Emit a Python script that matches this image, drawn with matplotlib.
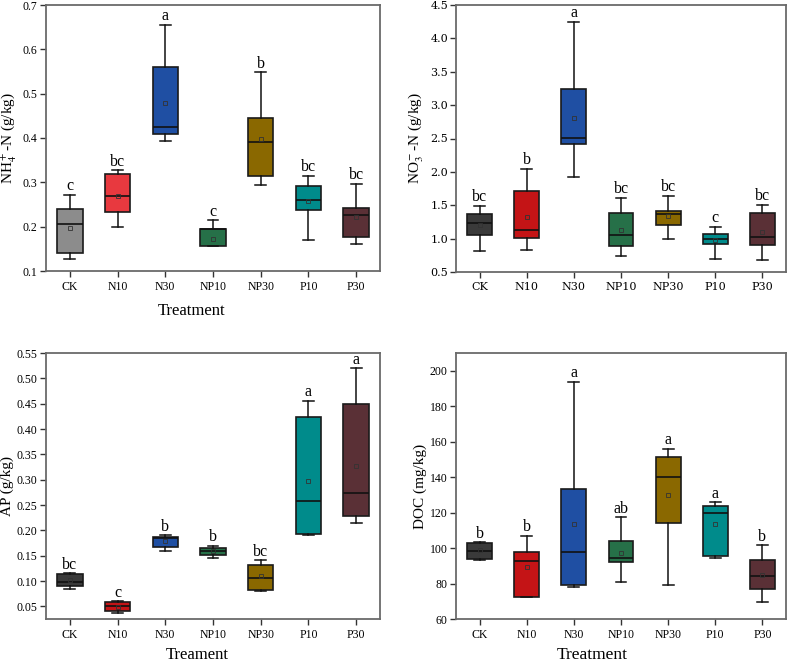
import matplotlib
matplotlib.use("Agg")
import matplotlib.pyplot as plt

plt.rcParams['font.family'] = ['Liberation Serif', 'DejaVu Serif']
plt.rcParams['mathtext.fontset'] = 'stix'

treatments = ["CK", "N10", "N30", "NP10", "NP30", "P10", "P30"]

# each: [whisker low, Q1, median, Q3, whisker high, mean]
nh4_low = [0.126, 0.200, 0.394, 0.156, 0.294, 0.170, 0.161]
nh4_q1 = [0.140, 0.234, 0.410, 0.156, 0.315, 0.238, 0.176]
nh4_med = [0.205, 0.270, 0.425, 0.194, 0.390, 0.261, 0.226]
nh4_q3 = [0.240, 0.318, 0.560, 0.194, 0.446, 0.291, 0.241]
nh4_high = [0.272, 0.327, 0.656, 0.214, 0.548, 0.314, 0.296]
nh4_mean = [0.198, 0.270, 0.480, 0.173, 0.398, 0.257, 0.221]
nh4_letters = ["c", "bc", "a", "c", "b", "bc", "bc"]

no3_low = [0.82, 0.835, 1.92, 0.74, 0.99, 0.69, 0.68]
no3_q1 = [1.054, 1.014, 2.418, 0.894, 1.209, 0.919, 0.909]
no3_med = [1.229, 1.134, 2.507, 1.059, 1.374, 0.999, 1.029]
no3_q3 = [1.369, 1.713, 3.247, 1.389, 1.409, 1.074, 1.384]
no3_high = [1.489, 2.048, 4.25, 1.609, 1.644, 1.179, 1.504]
no3_mean = [1.199, 1.319, 2.812, 1.129, 1.334, 0.979, 1.099]
no3_letters = ["bc", "b", "a", "bc", "bc", "c", "bc"]

ap_low = [0.084, 0.036, 0.159, 0.1445, 0.081, 0.190, 0.215]
ap_q1 = [0.0907, 0.040, 0.168, 0.152, 0.0815, 0.1937, 0.228]
ap_med = [0.099, 0.050, 0.185, 0.160, 0.1058, 0.257, 0.274]
ap_q3 = [0.113, 0.059, 0.187, 0.166, 0.131, 0.424, 0.4496]
ap_high = [0.115, 0.060, 0.190, 0.169, 0.1405, 0.455, 0.520]
ap_mean = [0.101, 0.0487, 0.178, 0.160, 0.109, 0.297, 0.327]
ap_letters = ["bc", "c", "b", "b", "bc", "a", "a"]

doc_low = [93.4, 72.2, 77.8, 80.8, 79.1, 94.3, 69.7]
doc_q1 = [93.9, 72.4, 78.9, 92.0, 114.0, 95.4, 77.1]
doc_med = [98.4, 92.8, 97.9, 94.5, 140.0, 119.6, 84.0]
doc_q3 = [103.1, 97.9, 133.3, 103.9, 151.6, 123.5, 93.2]
doc_high = [103.3, 107.0, 193.8, 117.3, 155.8, 125.8, 101.6]
doc_mean = [98.8, 89.2, 113.4, 97.5, 130.1, 113.4, 84.9]
doc_letters = ["b", "b", "a", "ab", "a", "a", "b"]

colors_a = ["#8c8c8c", "#e8393f", "#1f4fa3", "#267048", "#8a6800", "#008b8b", "#5a3036"]
colors_b = ["#3a3a3a", "#c41416", "#1f4fa3", "#267048", "#8a6800", "#008b8b", "#5a3036"]

fig = plt.figure(figsize=(7.91, 6.63), dpi=100)
W, H = 791, 663

def make_ax(l, r, t, b):
    return fig.add_axes([l / W, 1 - b / H, (r - l) / W, (b - t) / H])

ax1 = make_ax(46, 380, 5, 271)
ax2 = make_ax(456, 786, 5, 272)
ax3 = make_ax(46, 380, 353, 619)
ax4 = make_ax(456, 786, 353, 619)

def draw(ax, low, q1, med, q3, high, mean, letters, colors, ylim, yticks, fmt, ylabel):
    stats = []
    for i in range(len(treatments)):
        stats.append(dict(whislo=low[i], q1=q1[i], med=med[i], q3=q3[i],
                          whishi=high[i], mean=mean[i], fliers=[], label=treatments[i]))
    pos = list(range(1, len(treatments) + 1))
    bp = ax.bxp(stats, positions=pos, widths=0.53, patch_artist=True, showmeans=True,
                showfliers=False,
                boxprops=dict(linewidth=1.2, edgecolor="#1a1a1a"),
                medianprops=dict(color="#111111", linewidth=1.2),
                whiskerprops=dict(color="#111111", linewidth=1.1),
                capprops=dict(color="#111111", linewidth=1.1),
                meanprops=dict(marker="s", markersize=3.2, markerfacecolor="none",
                               markeredgecolor="#333333", markeredgewidth=0.6),
                capwidths=0.23)
    for patch, c in zip(bp["boxes"], colors):
        patch.set_facecolor(c)
    for i, lt in enumerate(letters):
        ax.annotate(lt, xy=(pos[i], high[i]), xytext=(0, 0.5), textcoords="offset points",
                    ha="center", va="bottom", fontsize=11.5)
    ax.set_xlim(0.5, 7.5)
    ax.set_ylim(*ylim)
    ax.set_yticks(yticks)
    ax.set_yticklabels([fmt.format(v) for v in yticks])
    ax.set_xticks(pos)
    ax.set_xticklabels(treatments)
    ax.tick_params(axis="both", direction="out", length=4, width=1, color="#333333",
                   labelsize=8.5, top=False, right=False)
    ax.tick_params(axis="y", pad=2)
    for s in ax.spines.values():
        s.set_color("#6a6a6a")
        s.set_linewidth(1.3)
    ax.set_ylabel(ylabel, fontsize=11)

draw(ax1, nh4_low, nh4_q1, nh4_med, nh4_q3, nh4_high, nh4_mean, nh4_letters, colors_a,
     (0.1, 0.7), [0.1, 0.2, 0.3, 0.4, 0.5, 0.6, 0.7], "{:.1f}", r"NH$_4^+$-N (g/kg)")
draw(ax2, no3_low, no3_q1, no3_med, no3_q3, no3_high, no3_mean, no3_letters, colors_b,
     (0.5, 4.5), [0.5, 1.0, 1.5, 2.0, 2.5, 3.0, 3.5, 4.0, 4.5], "{:.1f}", r"NO$_3^-$-N (g/kg)")
draw(ax3, ap_low, ap_q1, ap_med, ap_q3, ap_high, ap_mean, ap_letters, colors_b,
     (0.025, 0.55), [0.05, 0.10, 0.15, 0.20, 0.25, 0.30, 0.35, 0.40, 0.45, 0.50, 0.55],
     "{:.2f}", "AP (g/kg)")
draw(ax4, doc_low, doc_q1, doc_med, doc_q3, doc_high, doc_mean, doc_letters, colors_b,
     (60, 210), [60, 80, 100, 120, 140, 160, 180, 200], "{:.0f}", "DOC (mg/kg)")

for lab in ax2.get_yticklabels() + ax2.get_xticklabels():
    lab.set_family(["DejaVu Serif"])
    lab.set_fontsize(8)
ax2.tick_params(axis="y", pad=1.5)

ax1.set_xlabel("Treatment", fontsize=12)
ax1.xaxis.set_label_coords(0.437, -0.12)
ax3.set_xlabel("Treament", fontsize=12)
ax3.xaxis.set_label_coords(0.452, -0.105)
ax4.set_xlabel("Treatment", fontsize=12.5)
ax4.xaxis.set_label_coords(0.412, -0.104)

ax1.yaxis.set_label_coords(-0.082, 0.5)
ax2.yaxis.set_label_coords(-0.092, 0.5)
ax3.yaxis.set_label_coords(-0.097, 0.5)
ax4.yaxis.set_label_coords(-0.088, 0.5)

fig.savefig("out.png", dpi=100)
